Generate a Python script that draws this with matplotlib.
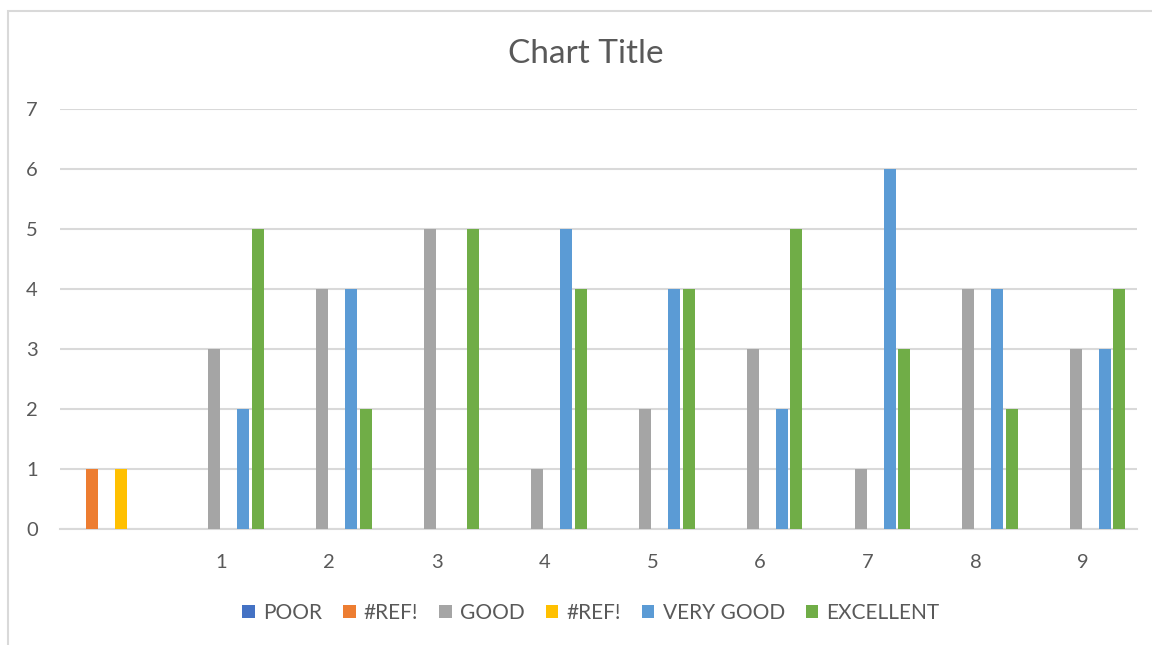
import matplotlib.pyplot as plt
import numpy as np
from matplotlib.patches import Rectangle

plt.rcParams['font.family'] = ['Lato', 'DejaVu Sans']

# categories (first one has an empty label)
categories = ['', '1', '2', '3', '4', '5', '6', '7', '8', '9']
series_names = ['POOR', '#REF!', 'GOOD', '#REF!', 'VERY GOOD', 'EXCELLENT']
colors = ['#4472C4', '#ED7D31', '#A5A5A5', '#FFC000', '#5B9BD5', '#70AD47']

poor = [0, 0, 0, 0, 0, 0, 0, 0, 0, 0]
ref1 = [1, 0, 0, 0, 0, 0, 0, 0, 0, 0]
good = [0, 3, 4, 5, 1, 2, 3, 1, 4, 3]
ref2 = [1, 0, 0, 0, 0, 0, 0, 0, 0, 0]
very_good = [0, 2, 4, 0, 5, 4, 2, 6, 4, 3]
excellent = [0, 5, 2, 5, 4, 4, 5, 3, 2, 4]
series = [poor, ref1, good, ref2, very_good, excellent]

text_col = '#595959'
grid_col = '#D9D9D9'

fig = plt.figure(figsize=(11.52, 6.45), dpi=100)
ax = fig.add_axes([60/1152, 1 - 529/645, (1137-60)/1152, (529-109)/645])

x = np.arange(len(categories))
slot = 14.5 / 107.7
bw = 12 / 107.7
for i, (vals, name, c) in enumerate(zip(series, series_names, colors)):
    ax.bar(x + (i - 2.5) * slot, vals, width=bw, color=c, label=name, zorder=3)

ax.set_xlim(-0.5, len(categories) - 0.5)
ax.set_ylim(0, 7)
ax.set_yticks(range(0, 8))
ax.set_xticks(x)
ax.set_xticklabels(categories)
ax.yaxis.grid(True, color=grid_col, linewidth=1.5, zorder=0)
for s in ['top', 'right', 'left']:
    ax.spines[s].set_visible(False)
ax.spines['bottom'].set_color(grid_col)
ax.spines['bottom'].set_linewidth(1.5)
ax.tick_params(axis='both', length=0, colors=text_col, labelsize=14.5)
ax.tick_params(axis='x', pad=18)
ax.tick_params(axis='y', pad=16)

fig.text(586/1152, 1 - 54/645, 'Chart Title', ha='center', va='center',
         fontsize=24, color=text_col)

leg = fig.legend(loc='center', bbox_to_anchor=(591/1152, 1 - 613/645), ncol=6,
                 frameon=False, fontsize=15, handlelength=0.6, handleheight=0.6,
                 columnspacing=1.0, handletextpad=0.4)
for t in leg.get_texts():
    t.set_color(text_col)

# chart border
fig.patches.append(Rectangle((7.5/1152, -0.1), 1.2, 1 - 10.5/645 + 0.1,
                             transform=fig.transFigure, fill=False,
                             edgecolor=grid_col, linewidth=1.5))

fig.savefig('out.png', dpi=100)
